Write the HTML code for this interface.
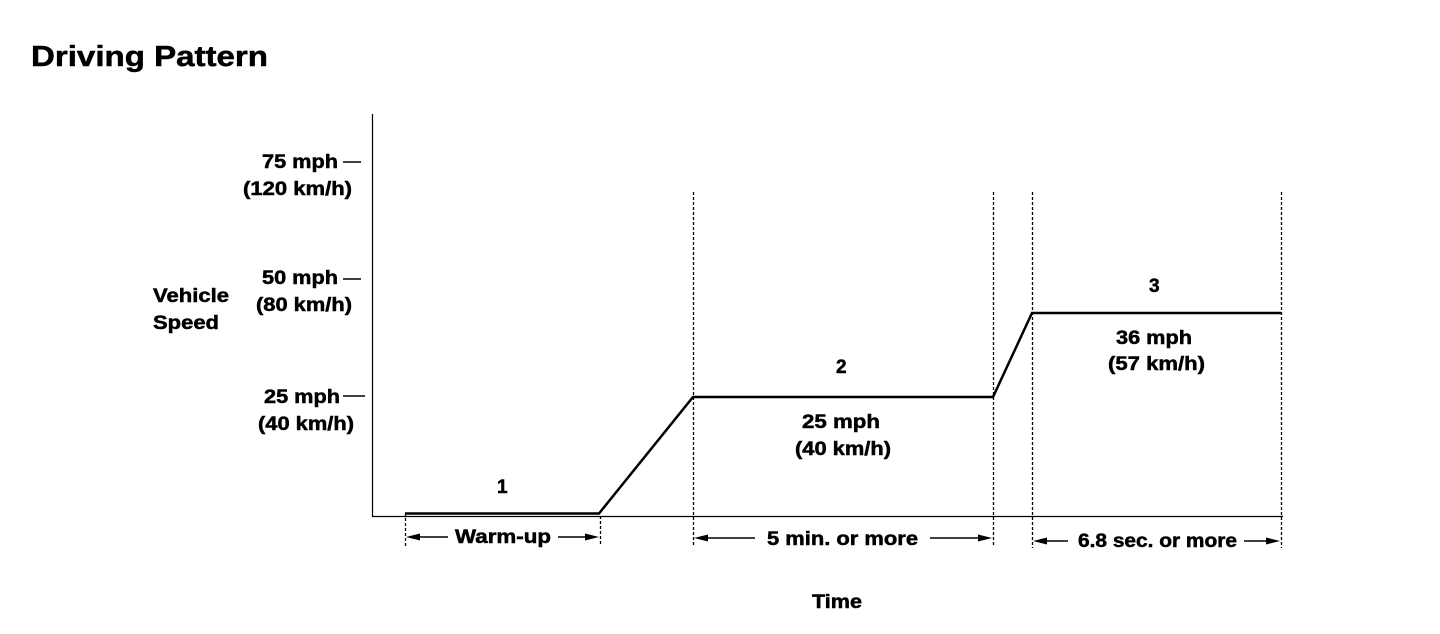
<!DOCTYPE html>
<html><head><meta charset="utf-8"><style>
html,body{margin:0;padding:0;background:#fff;}
svg{display:block;}
text{font-family:"Liberation Sans",Arial,sans-serif;font-weight:bold;fill:#000;stroke:#000;stroke-width:0.5;}
</style></head><body>
<svg width="1440" height="634" viewBox="0 0 1440 634" xmlns="http://www.w3.org/2000/svg">
<text x="31" y="66" font-size="29" textLength="237" lengthAdjust="spacingAndGlyphs">Driving Pattern</text>
<line x1="372.5" y1="114" x2="372.5" y2="517" stroke="#000" stroke-width="1.2"/>
<line x1="372" y1="516.5" x2="1283" y2="516.5" stroke="#000" stroke-width="1.2"/>
<g stroke="#000" stroke-width="1.5">
<line x1="343" y1="162" x2="361" y2="162"/>
<line x1="343" y1="279" x2="361" y2="279"/>
<line x1="343" y1="396" x2="365" y2="396"/>
</g>
<g font-size="19">
<text x="262" y="168" textLength="76" lengthAdjust="spacingAndGlyphs">75 mph</text>
<text x="243" y="195" textLength="109" lengthAdjust="spacingAndGlyphs">(120 km/h)</text>
<text x="262" y="284" textLength="76" lengthAdjust="spacingAndGlyphs">50 mph</text>
<text x="256" y="311" textLength="96" lengthAdjust="spacingAndGlyphs">(80 km/h)</text>
<text x="264" y="403" textLength="76" lengthAdjust="spacingAndGlyphs">25 mph</text>
<text x="258" y="430" textLength="96" lengthAdjust="spacingAndGlyphs">(40 km/h)</text>
<text x="153" y="302" textLength="76" lengthAdjust="spacingAndGlyphs">Vehicle</text>
<text x="153" y="329" textLength="66" lengthAdjust="spacingAndGlyphs">Speed</text>
</g>
<g stroke="#000" stroke-width="1.3" stroke-dasharray="3,2">
<line x1="693.5" y1="192" x2="693.5" y2="546"/>
<line x1="993.5" y1="192" x2="993.5" y2="546"/>
<line x1="1032.5" y1="192" x2="1032.5" y2="548"/>
<line x1="1281.5" y1="192" x2="1281.5" y2="548"/>
<line x1="405.5" y1="513" x2="405.5" y2="546"/>
<line x1="600.5" y1="516" x2="600.5" y2="546"/>
</g>
<polyline points="405,513.5 599,513.5 693,397 993,397 1032,313 1281,313" fill="none" stroke="#000" stroke-width="2.5"/>
<g font-size="19">
<text x="497" y="493">1</text>
<text x="836" y="373">2</text>
<text x="1149" y="292">3</text>
<text x="802" y="428" textLength="78" lengthAdjust="spacingAndGlyphs">25 mph</text>
<text x="795" y="455" textLength="96" lengthAdjust="spacingAndGlyphs">(40 km/h)</text>
<text x="1116" y="344" textLength="76" lengthAdjust="spacingAndGlyphs">36 mph</text>
<text x="1108" y="370" textLength="97" lengthAdjust="spacingAndGlyphs">(57 km/h)</text>
<text x="812" y="608" textLength="50" lengthAdjust="spacingAndGlyphs">Time</text>
<text x="455" y="543" textLength="96" lengthAdjust="spacingAndGlyphs">Warm-up</text>
<text x="767" y="545" textLength="151" lengthAdjust="spacingAndGlyphs">5 min. or more</text>
<text x="1078" y="547" textLength="159" lengthAdjust="spacingAndGlyphs">6.8 sec. or more</text>
</g>
<g stroke="#000" stroke-width="1.5">
<line x1="412" y1="537" x2="448" y2="537"/>
<line x1="558" y1="537" x2="592" y2="537"/>
<line x1="700" y1="538" x2="755" y2="538"/>
<line x1="930" y1="538" x2="985" y2="538"/>
<line x1="1040" y1="541" x2="1068" y2="541"/>
<line x1="1244" y1="541" x2="1274" y2="541"/>
</g>
<g fill="#000">
<polygon points="406,537 420,533.5 420,540.5"/>
<polygon points="599,537 585,533.5 585,540.5"/>
<polygon points="694,538 708,534.5 708,541.5"/>
<polygon points="992,538 978,534.5 978,541.5"/>
<polygon points="1033,541 1047,537.5 1047,544.5"/>
<polygon points="1280,541 1266,537.5 1266,544.5"/>
</g>
</svg>
</body></html>
